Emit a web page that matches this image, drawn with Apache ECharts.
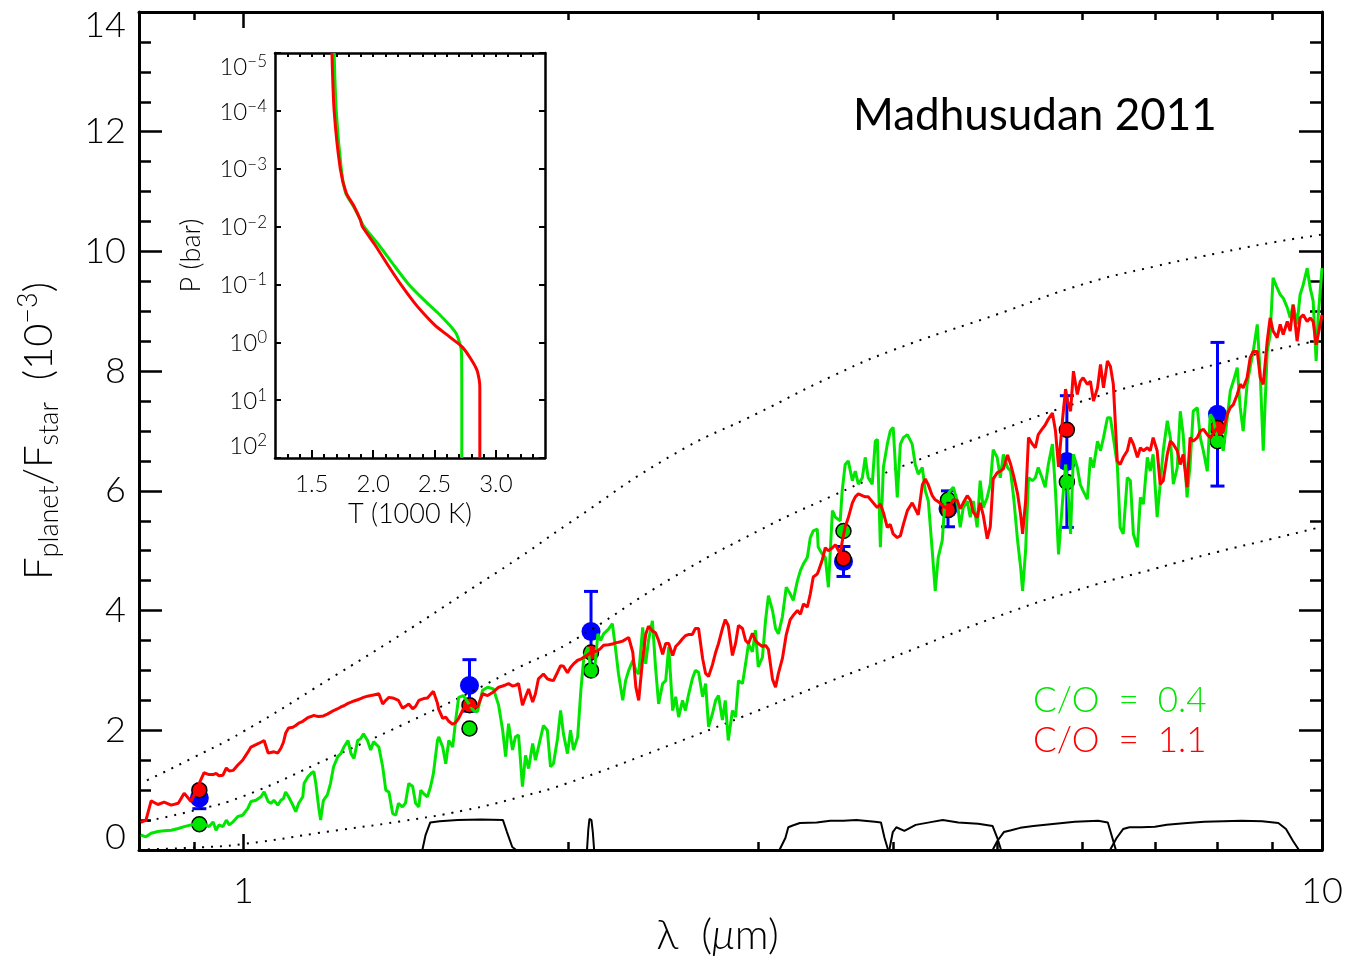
<!DOCTYPE html>
<html>
<head>
<meta charset="utf-8">
<title>Madhusudan 2011</title>
<script src="https://cdn.jsdelivr.net/npm/echarts@6/dist/echarts.min.js"></script>
<style>
  html, body { margin: 0; padding: 0; background: #fff; }
  #main { width: 1349px; height: 969px; }
</style>
</head>
<body>
<div id="main"></div>
<script>
// model spectra, wavelength in micron, flux ratio in units of 1e-3
const wavelength = [
  0.803,0.812,0.821,0.833,0.844,0.857,0.870,0.881,0.894,0.919,
  0.929,0.937,0.943,0.949,0.957,0.964,0.970,0.978,0.988,0.998,
  1.009,1.016,1.027,1.038,1.045,1.054,1.060,1.067,1.076,1.083,
  1.089,1.094,1.101,1.111,1.118,1.125,1.135,1.138,1.147,1.155,
  1.162,1.167,1.174,1.179,1.186,1.196,1.204,1.212,1.223,1.231,
  1.239,1.250,1.258,1.266,1.276,1.284,1.292,1.303,1.312,1.320,
  1.335,1.346,1.355,1.364,1.375,1.384,1.392,1.404,1.413,1.423,
  1.435,1.444,1.454,1.460,1.469,1.481,1.491,1.500,1.513,1.517,
  1.530,1.540,1.550,1.563,1.573,1.583,1.599,1.624,1.634,1.648,
  1.666,1.684,1.705,1.724,1.739,1.750,1.761,1.776,1.787,1.799,
  1.814,1.826,1.838,1.854,1.865,1.877,1.897,1.913,1.926,1.938,
  1.955,1.968,1.980,1.997,2.010,2.023,2.041,2.055,2.068,2.086,
  2.099,2.113,2.131,2.144,2.157,2.180,2.198,2.212,2.227,2.247,
  2.261,2.276,2.296,2.311,2.325,2.345,2.360,2.374,2.394,2.410,
  2.426,2.447,2.463,2.479,2.500,2.516,2.532,2.553,2.569,2.585,
  2.607,2.624,2.642,2.665,2.682,2.699,2.722,2.740,2.757,2.780,
  2.797,2.815,2.840,2.859,2.877,2.902,2.921,2.939,2.964,2.983,
  3.001,3.028,3.048,3.067,3.094,3.114,3.133,3.160,3.186,3.213,
  3.234,3.263,3.284,3.305,3.333,3.354,3.375,3.404,3.411,3.441,
  3.463,3.486,3.516,3.538,3.575,3.590,3.613,3.637,3.669,3.692,
  3.716,3.748,3.771,3.795,3.828,3.853,3.870,3.895,3.920,3.953,
  3.978,4.003,4.038,4.065,4.091,4.126,4.169,4.196,4.223,4.260,
  4.287,4.315,4.351,4.379,4.407,4.445,4.474,4.522,4.551,4.590,
  4.619,4.649,4.689,4.719,4.749,4.789,4.820,4.851,4.893,4.925,
  4.956,4.998,5.031,5.065,5.110,5.143,5.177,5.221,5.255,5.277,
  5.311,5.344,5.389,5.423,5.456,5.501,5.538,5.575,5.624,5.661,
  5.698,5.747,5.784,5.809,5.846,5.882,5.931,5.968,6.005,6.059,
  6.099,6.139,6.192,6.232,6.272,6.325,6.365,6.405,6.459,6.499,
  6.542,6.599,6.642,6.685,6.743,6.786,6.829,6.887,6.930,6.973,
  7.033,7.079,7.125,7.187,7.234,7.280,7.342,7.389,7.435,7.497,
  7.546,7.596,7.662,7.712,7.762,7.828,7.877,7.927,7.993,8.046,
  8.099,8.169,8.222,8.275,8.345,8.398,8.451,8.522,8.578,8.634,
  8.709,8.765,8.821,8.896,8.952,9.008,9.087,9.146,9.206,9.285,
  9.344,9.403,9.482,9.544,9.606,9.689,9.751,9.813,9.876,9.917,
  10.0
];
// C/O = 0.4 (green)
const fluxCO04 = [
  0.25,0.22,0.28,0.31,0.32,0.33,0.36,0.39,0.42,0.44,
  0.39,0.47,0.33,0.42,0.39,0.50,0.42,0.47,0.56,0.58,
  0.69,0.81,0.83,0.89,0.97,0.81,0.78,0.83,0.75,0.83,
  0.86,0.97,0.89,0.75,0.64,0.78,0.89,1.11,1.22,1.28,
  1.31,1.11,0.72,0.50,0.83,0.92,1.11,1.39,1.56,1.61,
  1.72,1.83,1.61,1.53,1.83,1.86,1.94,1.83,1.67,1.81,
  1.72,1.39,1.00,0.97,0.61,0.58,0.78,0.72,0.78,1.11,
  1.06,0.78,0.72,1.00,0.94,0.89,1.06,1.28,1.83,1.89,
  1.72,1.44,1.83,1.72,2.17,2.55,2.58,2.40,2.33,2.31,
  2.67,2.72,2.69,2.42,2.00,1.56,2.11,1.67,1.89,1.92,
  1.06,1.58,1.36,1.78,1.50,1.72,2.08,2.00,1.39,1.44,
  1.86,2.33,1.94,1.61,2.00,1.67,1.89,2.67,3.22,3.39,
  3.00,2.89,3.61,3.50,3.61,3.69,3.78,3.39,2.94,2.50,
  2.83,3.00,3.17,3.00,2.94,3.72,3.11,3.50,3.83,3.06,
  2.44,2.78,2.83,3.39,2.33,2.56,2.22,2.50,2.33,2.58,
  2.86,3.00,2.97,2.56,2.78,2.06,2.28,2.50,2.58,2.17,
  2.50,1.83,2.33,2.22,2.83,2.78,3.11,3.44,3.31,3.67,
  3.06,3.22,3.83,4.25,4.00,3.70,3.61,3.90,4.39,4.28,
  4.17,4.50,4.67,4.78,4.89,5.22,5.33,5.36,5.06,4.94,
  4.89,4.39,5.67,5.56,5.50,6.00,6.44,6.50,6.17,6.33,
  6.11,6.22,6.56,6.22,6.11,6.83,6.86,5.06,6.39,6.78,
  7.00,7.06,5.89,6.78,6.89,6.94,6.78,6.44,6.28,6.39,
  6.00,5.83,5.00,4.33,4.89,5.17,5.89,6.00,6.06,5.83,
  5.39,5.72,5.83,5.56,5.83,5.39,6.17,5.72,5.89,6.11,
  6.69,6.56,6.22,6.61,6.39,6.33,5.89,5.17,4.72,4.33,
  5.00,6.22,6.17,6.22,6.39,6.22,6.06,6.44,6.78,6.00,
  4.94,5.83,6.44,6.10,5.28,6.61,6.39,6.11,6.00,5.86,
  6.56,6.39,6.83,6.67,6.89,7.22,7.22,6.89,6.44,5.39,
  5.28,6.22,6.17,5.28,5.06,5.89,5.78,6.56,6.33,6.61,
  5.56,6.11,6.67,7.17,6.89,6.11,6.39,7.33,6.94,5.89,
  6.44,7.33,7.39,6.89,6.67,6.33,7.28,7.20,6.90,6.89,
  6.67,7.22,7.67,7.83,8.06,7.39,7.00,7.78,8.06,8.33,
  8.78,7.94,6.67,8.33,8.61,9.56,9.39,9.28,9.22,9.06,
  8.89,9.11,8.78,9.28,9.44,9.72,9.39,9.17,8.17,8.89,
  9.72
];
// C/O = 1.1 (red)
const fluxCO11 = [
  0.46,0.50,0.82,0.76,0.80,0.75,0.78,0.95,0.81,1.29,
  1.26,1.26,1.28,1.24,1.25,1.37,1.32,1.33,1.42,1.50,
  1.63,1.72,1.76,1.80,1.83,1.62,1.63,1.64,1.62,1.70,
  1.80,1.95,2.04,2.05,2.08,2.12,2.15,2.16,2.21,2.23,
  2.25,2.24,2.23,2.22,2.24,2.27,2.30,2.33,2.36,2.39,
  2.41,2.45,2.47,2.49,2.51,2.53,2.55,2.57,2.58,2.59,
  2.61,2.44,2.50,2.55,2.54,2.52,2.50,2.37,2.40,2.44,
  2.36,2.40,2.50,2.51,2.53,2.54,2.60,2.65,2.45,2.35,
  2.20,2.22,2.15,2.10,2.13,2.20,2.36,2.42,2.40,2.39,
  2.61,2.58,2.64,2.72,2.74,2.76,2.78,2.74,2.75,2.78,
  2.42,2.56,2.69,2.47,2.61,2.86,2.94,2.86,2.84,2.83,
  2.97,3.08,3.07,2.96,3.05,3.11,3.17,3.19,3.22,3.26,
  3.30,3.31,3.33,3.37,3.42,3.43,3.44,3.46,3.47,3.49,
  3.52,3.55,3.30,2.72,2.50,3.20,3.60,3.74,3.66,3.63,
  3.50,3.27,3.45,3.45,3.25,3.40,3.45,3.53,3.58,3.60,
  3.60,3.70,3.70,3.20,2.95,2.90,3.10,3.30,3.45,3.70,
  3.85,3.75,3.25,3.45,3.75,3.70,3.50,3.45,3.62,3.50,
  3.45,3.40,3.42,3.35,2.85,2.72,2.95,3.20,3.60,3.85,
  3.92,4.00,3.94,4.11,4.06,4.28,4.56,4.61,4.65,4.85,
  5.05,5.00,5.05,5.10,4.95,5.15,5.40,5.55,5.80,5.90,
  5.95,5.92,5.90,5.90,5.82,5.76,5.72,5.78,5.64,5.39,
  5.44,5.28,5.22,5.25,5.44,5.67,5.80,5.70,5.60,6.10,
  6.20,6.10,5.92,5.85,5.82,5.76,5.72,5.76,5.85,5.84,
  5.70,5.80,5.92,5.85,5.65,5.55,5.80,5.60,5.20,5.40,
  6.20,6.30,6.33,6.37,6.60,6.45,6.25,5.95,5.60,5.28,
  5.83,6.89,6.78,6.72,6.94,7.03,7.10,7.20,7.30,7.00,
  6.40,7.20,7.70,7.50,7.33,8.00,7.61,7.83,7.89,7.78,
  7.83,7.50,7.72,8.11,7.72,8.17,8.08,7.78,6.50,6.44,
  6.56,6.67,6.89,6.78,6.56,6.72,6.67,6.72,6.67,6.89,
  6.67,6.11,6.17,6.61,6.83,6.78,6.67,6.44,6.61,6.06,
  6.89,6.83,6.89,7.00,7.03,6.94,6.89,6.95,7.05,6.94,
  7.00,7.28,7.39,7.44,7.61,7.78,7.72,7.89,8.22,8.33,
  8.33,7.89,7.78,8.50,8.89,8.67,8.56,8.78,8.61,8.83,
  8.67,9.11,8.50,8.89,8.94,8.83,8.89,8.83,8.44,8.60,
  8.94
];

// observed eclipse depths and band-averaged model points
const obsWavelength = [0.91, 1.62, 2.10, 3.60, 4.50, 5.80, 8.00];
const obsFlux = [0.87, 2.75, 3.65, 4.82, 5.70, 6.49, 7.28];
const obsError = [0.18, 0.43, 0.67, 0.25, 0.30, 1.10, 1.20];
const bandCO04 = [0.43, 2.03, 3.00, 5.33, 5.85, 6.15, 6.83];
const bandCO11 = [1.00, 2.42, 3.30, 4.87, 5.68, 7.02, 7.05];

// blackbody curves (dotted)
const bbWavelength = [0.8, 0.9, 1.0, 1.2, 1.4, 1.6, 1.8, 2.0, 2.5, 3.0, 3.5, 4.0, 5.0, 6.0, 7.0, 8.0, 9.0, 10.0];
const bbHot = [1.10, 1.55, 1.98, 2.85, 3.60, 4.28, 4.88, 5.45, 6.60, 7.30, 7.90, 8.35, 8.95, 9.45, 9.75, 9.97, 10.15, 10.28];
const bbMid = [0.46, 0.66, 0.90, 1.53, 2.08, 2.58, 3.05, 3.45, 4.55, 5.33, 5.90, 6.35, 7.00, 7.50, 7.85, 8.12, 8.35, 8.52];
const bbCool = [0.01, 0.04, 0.10, 0.31, 0.48, 0.66, 0.88, 1.12, 1.77, 2.33, 2.82, 3.22, 3.90, 4.37, 4.70, 4.98, 5.20, 5.40];

// filter transmission curves (arbitrary scale)
const hBandWave = [1.465, 1.475, 1.49, 1.52, 1.58, 1.66, 1.74, 1.755, 1.775, 1.79];
const hBandResp = [0, 0.25, 0.46, 0.48, 0.50, 0.51, 0.50, 0.30, 0.05, 0];
const ksBandWave = [2.082, 2.088, 2.093, 2.102, 2.108, 2.114];
const ksBandResp = [0, 0.35, 0.52, 0.50, 0.30, 0];
const ch1Wave = [3.14, 3.18, 3.20, 3.23, 3.28, 3.40, 3.50, 3.60, 3.70, 3.85, 3.90, 3.93, 3.96];
const ch1Resp = [0, 0.20, 0.38, 0.41, 0.45, 0.46, 0.49, 0.49, 0.50, 0.47, 0.46, 0.20, 0];
const ch2Wave = [3.97, 4.00, 4.03, 4.10, 4.20, 4.35, 4.45, 4.60, 4.80, 4.95, 5.00, 5.04];
const ch2Resp = [0, 0.30, 0.38, 0.32, 0.42, 0.47, 0.50, 0.46, 0.44, 0.40, 0.20, 0];
const ch3Wave = [4.95, 5.00, 5.07, 5.15, 5.25, 5.40, 5.60, 5.90, 6.20, 6.33, 6.38, 6.44];
const ch3Resp = [0, 0.15, 0.30, 0.33, 0.37, 0.40, 0.43, 0.47, 0.49, 0.46, 0.25, 0];
const ch4Wave = [6.36, 6.45, 6.54, 6.63, 6.80, 7.00, 7.18, 7.50, 7.78, 8.10, 8.42, 8.80, 9.11, 9.26, 9.40, 9.52];
const ch4Resp = [0, 0.20, 0.35, 0.38, 0.38, 0.39, 0.42, 0.45, 0.47, 0.48, 0.49, 0.48, 0.45, 0.35, 0.15, 0];

// inset: pressure-temperature profiles (T in 1000 K, P in bar)
const ptPressureCO04 = [1e-5, 1e-4, 1e-3, 0.0026, 0.0045, 0.0076, 0.01, 0.02, 0.05, 0.1, 0.2, 0.3, 0.5, 0.7, 1.0, 1.3, 2.0, 10, 100];
const ptTempCO04 = [1.682, 1.699, 1.740, 1.775, 1.840, 1.895, 1.925, 2.040, 2.180, 2.290, 2.430, 2.520, 2.620, 2.675, 2.703, 2.716, 2.721, 2.722, 2.722];
const ptPressureCO11 = [1e-5, 1e-4, 1e-3, 0.0026, 0.0045, 0.0076, 0.01, 0.02, 0.05, 0.1, 0.2, 0.3, 0.5, 0.8, 1.2, 2.0, 3.0, 4.5, 6.0, 100];
const ptTempCO11 = [1.664, 1.682, 1.732, 1.780, 1.845, 1.895, 1.912, 2.010, 2.130, 2.225, 2.330, 2.400, 2.500, 2.620, 2.725, 2.800, 2.845, 2.864, 2.869, 2.869];

// tick positions
const mainXMajor = [1, 10];
const mainXMinor = [0.9, 2, 3, 4, 5, 6, 7, 8, 9];
const insetXMajor = [1.5, 2.0, 2.5, 3.0];
const insetXMinor = [1.3, 1.4, 1.6, 1.7, 1.8, 1.9, 2.1, 2.2, 2.3, 2.4, 2.6, 2.7, 2.8, 2.9, 3.1, 3.2, 3.3];
const insetYDecades = [1e-5, 1e-4, 1e-3, 1e-2, 1e-1, 1, 10, 100];

const GREEN = '#00e600';
const RED = '#ff0000';
const BLUE = '#0000ff';
const FONT = 'Lato, "DejaVu Sans", sans-serif';

const pairs = (xs, ys) => xs.map((x, i) => [x, ys[i]]);

function decadeLabel(v) {
  const e = Math.round(Math.log10(v));
  return '{b|10}{s|' + String(e).replace('-', '\u2212') + '}';
}

function mainX(extra) {
  return Object.assign({
    type: 'log', gridIndex: 0, min: 0.8, max: 10, logBase: 10,
    splitLine: { show: false },
    axisLine: { show: true, lineStyle: { color: '#000', width: 3 } },
    axisLabel: { show: false },
    axisPointer: { show: false }
  }, extra);
}
function mainY(extra) {
  return Object.assign({
    type: 'value', gridIndex: 0, min: 0, max: 14, interval: 2,
    splitLine: { show: false },
    axisLine: { show: true, lineStyle: { color: '#000', width: 3 } },
    axisTick: { show: true, inside: true, length: 23, lineStyle: { color: '#000', width: 2.5 } },
    minorTick: { show: true, splitNumber: 4, length: 12, lineStyle: { color: '#000', width: 2.5 } },
    axisLabel: { show: false }
  }, extra);
}
function insetX(extra) {
  return Object.assign({
    type: 'value', gridIndex: 1, min: 1.2, max: 3.4,
    splitLine: { show: false },
    axisLine: { show: true, lineStyle: { color: '#000', width: 2.5 } },
    axisLabel: { show: false }
  }, extra);
}
function insetY(extra) {
  return Object.assign({
    type: 'log', gridIndex: 1, min: 1e-5, max: 100, logBase: 10, inverse: true,
    splitLine: { show: false },
    axisLine: { show: true, lineStyle: { color: '#000', width: 2.5 } },
    axisTick: { show: true, inside: true, length: 6, customValues: insetYDecades, lineStyle: { color: '#000', width: 2 } },
    axisLabel: { show: false }
  }, extra);
}

const option = {
  animation: false,
  backgroundColor: '#fff',
  title: [
    { text: 'Madhusudan 2011', left: 848, top: 89,
      textStyle: { fontFamily: 'Lato, "Open Sans", sans-serif', fontSize: 44, fontWeight: 'normal', color: '#000' } },
    { text: 'C/O  =  0.4', left: 1028, top: 678,
      textStyle: { fontFamily: FONT, fontSize: 35, fontWeight: 300, color: GREEN } },
    { text: 'C/O  =  1.1', left: 1028, top: 718,
      textStyle: { fontFamily: FONT, fontSize: 35, fontWeight: 300, color: RED } }
  ],
  grid: [
    { left: 139, right: 27, top: 12, bottom: 119 },
    { left: 275, top: 53, width: 270, height: 405, show: true, backgroundColor: '#fff', borderWidth: 0 }
  ],
  xAxis: [
    mainX({
      position: 'bottom',
      axisTick: { show: true, inside: true, length: 16, customValues: mainXMajor, lineStyle: { color: '#000', width: 2.5 } },
      axisLabel: { show: true, customValues: mainXMajor, margin: 23, fontSize: 36, fontWeight: 300, fontFamily: FONT, color: '#000' },
      name: '{n|\u03bb  (}{i|\u03bc}{n|m)}',
      nameLocation: 'middle', nameGap: 64,
      nameTextStyle: {
        padding: [0, 26, 0, 0],
        rich: {
          n: { fontSize: 42, fontWeight: 300, fontFamily: FONT, color: '#000' },
          i: { fontSize: 42, fontWeight: 300, fontStyle: 'italic', fontFamily: FONT, color: '#000' }
        }
      }
    }),
    mainX({ position: 'bottom', axisLine: { show: false },
      axisTick: { show: true, inside: true, length: 8, customValues: mainXMinor, lineStyle: { color: '#000', width: 2.5 } } }),
    mainX({ position: 'top',
      axisTick: { show: true, inside: true, length: 16, customValues: mainXMajor, lineStyle: { color: '#000', width: 2.5 } } }),
    mainX({ position: 'top', axisLine: { show: false },
      axisTick: { show: true, inside: true, length: 8, customValues: mainXMinor, lineStyle: { color: '#000', width: 2.5 } } }),
    insetX({
      position: 'bottom',
      axisTick: { show: true, inside: true, length: 8, customValues: insetXMajor, lineStyle: { color: '#000', width: 2 } },
      axisLabel: { show: true, customValues: insetXMajor, margin: 14, fontSize: 24, fontWeight: 300, fontFamily: FONT, color: '#000',
        formatter: (v) => v.toFixed(1) },
      name: 'T (1000 K)', nameLocation: 'middle', nameGap: 43,
      nameTextStyle: { fontSize: 27, fontWeight: 300, fontFamily: FONT, color: '#000' }
    }),
    insetX({ position: 'bottom', axisLine: { show: false },
      axisTick: { show: true, inside: true, length: 4, customValues: insetXMinor, lineStyle: { color: '#000', width: 2 } } }),
    insetX({ position: 'top',
      axisTick: { show: true, inside: true, length: 4, customValues: insetXMajor.concat(insetXMinor), lineStyle: { color: '#000', width: 2 } } })
  ],
  yAxis: [
    mainY({
      position: 'left',
      axisLabel: { show: true, margin: 13, fontSize: 36, lineHeight: 26, fontWeight: 300, fontFamily: FONT, color: '#000',
        verticalAlignMinLabel: 'bottom', verticalAlignMaxLabel: 'top' },
      name: '{n|F}{sub|planet}{n|/F}{sub|star}{n|  (10}{sup|\u22123}{n|)}',
      nameLocation: 'middle', nameGap: 76, nameRotate: 90,
      nameTextStyle: {
        rich: {
          n: { fontSize: 40, fontWeight: 300, fontFamily: FONT, color: '#000', lineHeight: 48, verticalAlign: 'middle' },
          sub: { fontSize: 27, fontWeight: 300, fontFamily: FONT, color: '#000', lineHeight: 48, verticalAlign: 'bottom' },
          sup: { fontSize: 27, fontWeight: 300, fontFamily: FONT, color: '#000', lineHeight: 48, verticalAlign: 'top' }
        }
      }
    }),
    mainY({ position: 'right' }),
    insetY({
      position: 'left',
      axisLabel: { show: true, customValues: insetYDecades, margin: 8, formatter: decadeLabel,
        verticalAlignMinLabel: 'top', verticalAlignMaxLabel: 'bottom',
        rich: {
          b: { fontSize: 24, fontWeight: 300, fontFamily: FONT, color: '#000', lineHeight: 26, verticalAlign: 'bottom' },
          s: { fontSize: 17, fontWeight: 300, fontFamily: FONT, color: '#000', lineHeight: 26, verticalAlign: 'top' }
        } },
      name: 'P (bar)', nameLocation: 'middle', nameGap: 70, nameRotate: 90,
      nameTextStyle: { fontSize: 27, fontWeight: 300, fontFamily: FONT, color: '#000' }
    }),
    insetY({ position: 'right' })
  ],
  series: [
    { type: 'line', name: 'bb hot', xAxisIndex: 0, yAxisIndex: 0, data: pairs(bbWavelength, bbHot), smooth: true,
      showSymbol: false, lineStyle: { color: '#000', width: 2, type: [2, 7] } },
    { type: 'line', name: 'bb mid', xAxisIndex: 0, yAxisIndex: 0, data: pairs(bbWavelength, bbMid), smooth: true,
      showSymbol: false, lineStyle: { color: '#000', width: 2, type: [2, 7] } },
    { type: 'line', name: 'bb cool', xAxisIndex: 0, yAxisIndex: 0, data: pairs(bbWavelength, bbCool), smooth: true,
      showSymbol: false, lineStyle: { color: '#000', width: 2, type: [2, 7] } },
    ...[[hBandWave, hBandResp], [ksBandWave, ksBandResp], [ch1Wave, ch1Resp], [ch2Wave, ch2Resp], [ch3Wave, ch3Resp], [ch4Wave, ch4Resp]]
      .map(([w, r]) => ({ type: 'line', xAxisIndex: 0, yAxisIndex: 0, data: pairs(w, r), showSymbol: false,
        lineStyle: { color: '#000', width: 2 } })),
    { type: 'line', name: 'C/O = 0.4', xAxisIndex: 0, yAxisIndex: 0, data: pairs(wavelength, fluxCO04),
      showSymbol: false, lineStyle: { color: GREEN, width: 3 } },
    { type: 'line', name: 'C/O = 1.1', xAxisIndex: 0, yAxisIndex: 0, data: pairs(wavelength, fluxCO11),
      showSymbol: false, lineStyle: { color: RED, width: 3 } },
    { type: 'custom', name: 'errors', xAxisIndex: 0, yAxisIndex: 0,
      data: obsWavelength.map((w, i) => [w, obsFlux[i], obsError[i]]),
      encode: { x: 0, y: 1 },
      renderItem: function (params, api) {
        const x = api.value(0), y = api.value(1), e = api.value(2);
        const top = api.coord([x, y + e]);
        const bot = api.coord([x, y - e]);
        const w = 7;
        const st = { stroke: BLUE, lineWidth: 3 };
        return { type: 'group', children: [
          { type: 'line', shape: { x1: top[0], y1: top[1], x2: bot[0], y2: bot[1] }, style: st },
          { type: 'line', shape: { x1: top[0] - w, y1: top[1], x2: top[0] + w, y2: top[1] }, style: st },
          { type: 'line', shape: { x1: bot[0] - w, y1: bot[1], x2: bot[0] + w, y2: bot[1] }, style: st }
        ] };
      } },
    { type: 'scatter', name: 'data', xAxisIndex: 0, yAxisIndex: 0, data: pairs(obsWavelength, obsFlux),
      symbolSize: 19, itemStyle: { color: BLUE, opacity: 1 } },
    { type: 'scatter', name: 'band 0.4', xAxisIndex: 0, yAxisIndex: 0, data: pairs(obsWavelength, bandCO04),
      symbolSize: 15, itemStyle: { color: GREEN, borderColor: '#000', borderWidth: 1.5, opacity: 1 } },
    { type: 'scatter', name: 'band 1.1', xAxisIndex: 0, yAxisIndex: 0, data: pairs(obsWavelength, bandCO11),
      symbolSize: 15, itemStyle: { color: RED, borderColor: '#000', borderWidth: 1.5, opacity: 1 } },
    { type: 'line', name: 'PT 0.4', xAxisIndex: 4, yAxisIndex: 2, data: pairs(ptTempCO04, ptPressureCO04),
      smooth: 0.25, showSymbol: false, lineStyle: { color: GREEN, width: 3 } },
    { type: 'line', name: 'PT 1.1', xAxisIndex: 4, yAxisIndex: 2, data: pairs(ptTempCO11, ptPressureCO11),
      smooth: 0.25, showSymbol: false, lineStyle: { color: RED, width: 3 } }
  ]
};

const myChart = echarts.init(document.getElementById('main'));
myChart.setOption(option);
</script>
</body>
</html>
